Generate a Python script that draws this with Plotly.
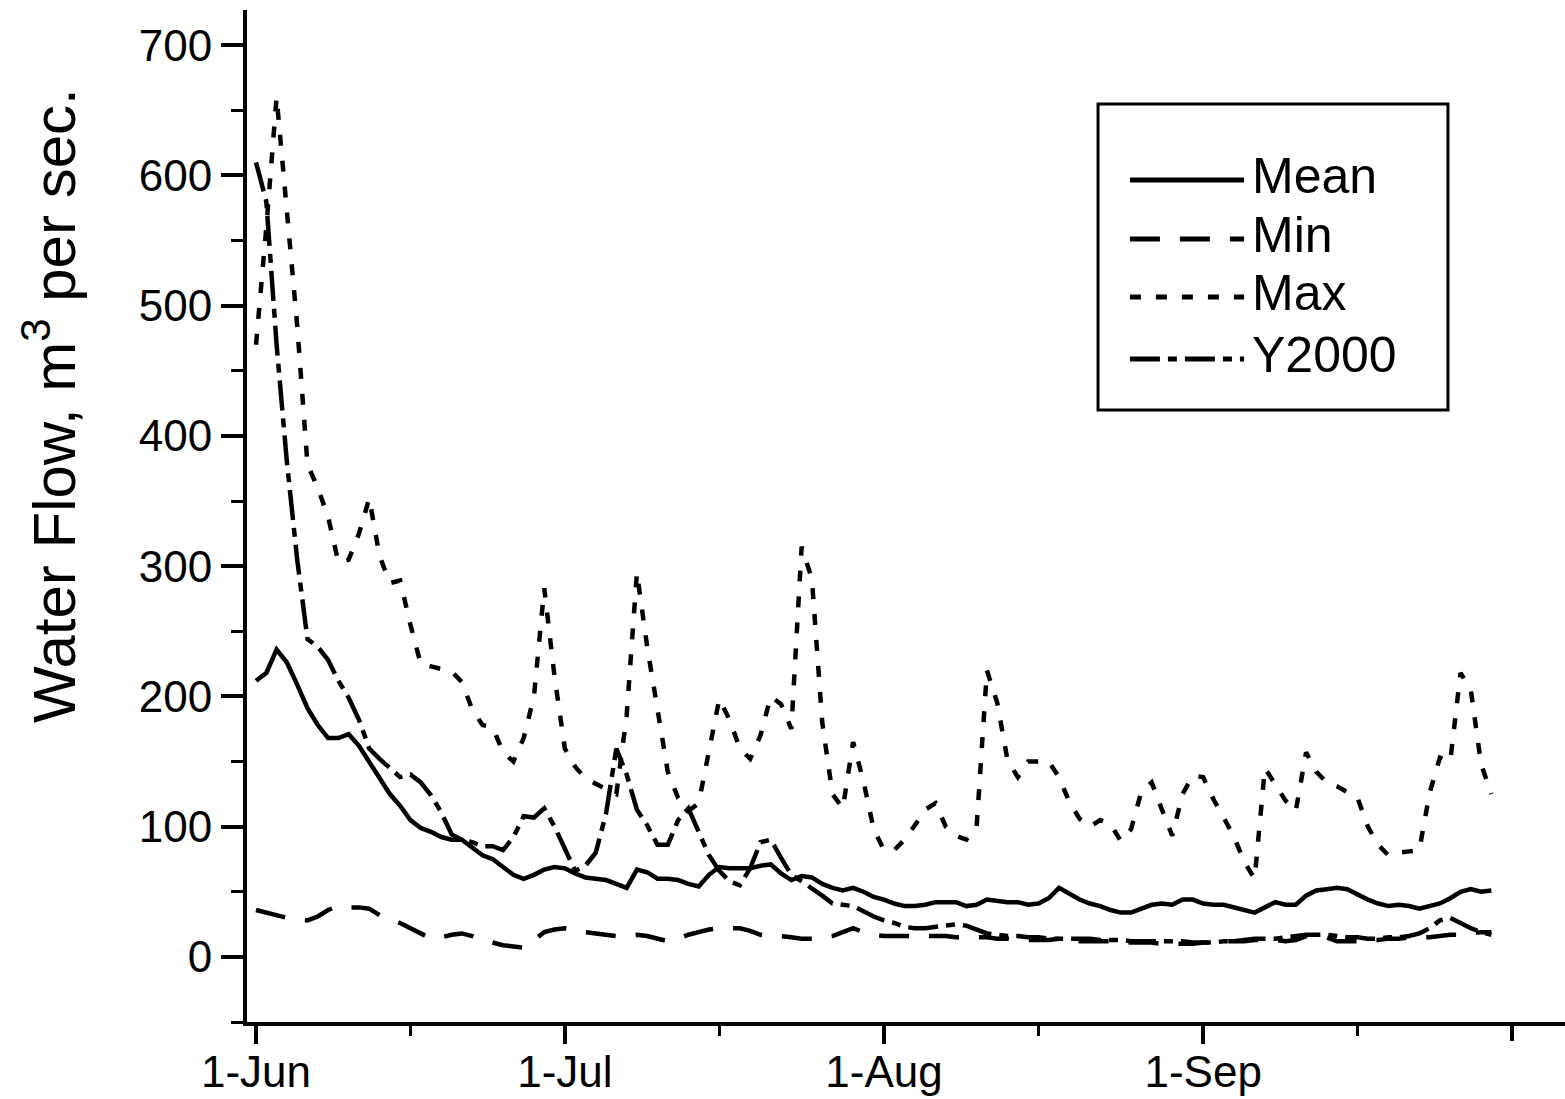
import pandas as pd
import plotly.graph_objects as go

# ---------------- data (daily, 1-Jun .. 29-Sep) ----------------
start_date = "2000-06-01"
n_days = 121

mean_flow = [
    212, 218, 236, 226, 209, 191, 178, 168, 168, 171,
    162, 150, 137, 125, 116, 105, 99, 96, 92, 90,
    90, 84, 78, 75, 69, 63, 60, 63, 67, 69,
    68, 64, 61, 60, 59, 56, 53, 67, 65, 60,
    60, 59, 56, 54, 63, 69, 68, 68, 68, 70,
    71, 64, 59, 62, 61, 56, 53, 51, 53, 50,
    46, 44, 41, 39, 39, 40, 42, 42, 42, 39,
    40, 44, 43, 42, 42, 40, 41, 45, 53, 48,
    44, 41, 39, 36, 34, 34, 37, 40, 41, 40,
    44, 44, 41, 40, 40, 38, 36, 34, 38, 42,
    40, 40, 47, 51, 52, 53, 52, 48, 44, 41,
    39, 40, 39, 37, 39, 41, 45, 50, 52, 50,
    51,
]

min_flow = [
    36, 34, 32, 30, 29, 28, 31, 36, 39, 38,
    38, 37, 32, 29, 26, 22, 18, 14, 15, 17,
    18, 16, 13, 11, 9, 8, 7, 13, 19, 21,
    22, 21, 19, 18, 17, 16, 16, 17, 16, 14,
    12, 14, 17, 19, 21, 22, 22, 22, 20, 17,
    16, 16, 15, 14, 14, 15, 16, 19, 22, 19,
    17, 16, 16, 16, 16, 16, 16, 16, 15, 15,
    15, 15, 14, 14, 13, 13, 13, 13, 14, 13,
    12, 12, 12, 12, 11, 11, 11, 11, 10, 10,
    10, 10, 11, 11, 12, 12, 12, 13, 13, 13,
    12, 13, 16, 16, 15, 12, 12, 12, 13, 13,
    14, 14, 15, 15, 15, 16, 17, 17, 18, 19,
    19,
]

max_flow = [
    470, 560, 660, 572, 485, 378, 360, 338, 303, 305,
    325, 352, 308, 287, 289, 255, 225, 223, 221, 219,
    211, 190, 178, 176, 157, 150, 168, 200, 283, 215,
    160, 146, 137, 133, 129, 125, 185, 295, 238, 188,
    142, 122, 112, 118, 160, 198, 182, 160, 152, 170,
    200, 194, 175, 315, 290, 180, 125, 114, 165, 135,
    98, 82, 82, 90, 101, 113, 118, 100, 93, 90,
    100, 220, 195, 151, 138, 150, 150, 150, 138, 119,
    106, 100, 105, 102, 89, 98, 127, 134, 113, 93,
    125, 139, 138, 121, 107, 92, 73, 60, 145, 133,
    120, 112, 157, 142, 134, 131, 126, 122, 100, 86,
    78, 80, 81, 82, 126, 153, 150, 218, 205, 148,
    125,
]

y2000_flow = [
    610, 580, 470, 380, 305, 244, 238, 228, 212, 199,
    182, 160, 152, 145, 138, 140, 134, 124, 111, 94,
    90, 88, 85, 85, 82, 92, 108, 107, 114, 100,
    82, 66, 70, 80, 110, 160, 140, 113, 101, 86,
    86, 105, 114, 97, 78, 66, 58, 55, 68, 88,
    90, 76, 63, 58, 53, 47, 41, 40, 39, 35,
    31, 28, 26, 23, 22, 22, 23, 24, 25, 24,
    21, 18, 17, 16, 16, 15, 15, 14, 14, 14,
    14, 14, 13, 13, 13, 12, 12, 12, 12, 12,
    12, 11, 11, 11, 12, 12, 13, 14, 14, 14,
    15, 16, 17, 17, 17, 16, 15, 15, 14, 14,
    15, 15, 16, 18, 22, 28, 30, 26, 22, 19,
    17,
]

series_names = ["Mean", "Min", "Max", "Y2000"]
x_tick_dates = ["2000-06-01", "2000-07-01", "2000-08-01", "2000-09-01"]
x_tick_text = ["1-Jun", "1-Jul", "1-Aug", "1-Sep"]
x_unlabelled_tick = ["2000-10-01"]
x_minor_dates = ["2000-06-16", "2000-07-16", "2000-08-16", "2000-09-16"]
y_tick_vals = [0, 100, 200, 300, 400, 500, 600, 700]

# ---------------- styles ----------------
dates = pd.date_range(start_date, periods=n_days, freq="D")
styles = {
    "Mean": dict(dash="solid"),
    "Min": dict(dash="30px,20px"),
    "Max": dict(dash="11px,15px"),
    "Y2000": dict(dash="30px,8px,9px,8px"),
}
values = {"Mean": mean_flow, "Min": min_flow, "Max": max_flow, "Y2000": y2000_flow}
FONT = "Liberation Sans, Arial, sans-serif"
X_RANGE = ["2000-05-31 03:00", "2000-10-06 03:36"]

fig = go.Figure()
for name in series_names:
    fig.add_trace(go.Scatter(
        x=dates, y=values[name], mode="lines", name=name,
        line=dict(color="black", width=4.5, dash=styles[name]["dash"]),
        showlegend=False,
    ))
# empty helper trace so the overlaying axis (for the unlabelled 1-Oct tick) is drawn
fig.add_trace(go.Scatter(x=[], y=[], xaxis="x2", yaxis="y", showlegend=False,
                         hoverinfo="skip"))

fig.update_layout(
    width=1565, height=1099,
    margin=dict(l=247, r=0, t=10, b=77, autoexpand=False),
    paper_bgcolor="white", plot_bgcolor="white",
    font=dict(family=FONT, color="black", size=44),
    xaxis2=dict(
        type="date", overlaying="x", anchor="y", side="bottom",
        range=X_RANGE, tickmode="array", tickvals=x_unlabelled_tick,
        showticklabels=False, ticks="outside", ticklen=18, tickwidth=3.5,
        tickcolor="black", showline=False, showgrid=False, zeroline=False,
        automargin=False,
    ),
)

fig.layout.xaxis.update(
    type="date",
    range=X_RANGE,
    tickmode="array", tickvals=x_tick_dates, ticktext=x_tick_text,
    ticks="outside", ticklen=18, tickwidth=3.5, tickcolor="black",
    showline=True, linewidth=4, linecolor="black",
    showgrid=False, zeroline=False, automargin=False,
    ticklabelstandoff=-10,
    tickfont=dict(size=44, family=FONT),
    minor=dict(tickmode="array", tickvals=x_minor_dates, ticks="outside",
               ticklen=10, tickwidth=3, tickcolor="black", showgrid=False),
)
fig.layout.yaxis.update(
    range=[-50, 727],
    tickmode="array", tickvals=y_tick_vals,
    ticks="outside", ticklen=22, tickwidth=3.5, tickcolor="black",
    showline=True, linewidth=4, linecolor="black",
    showgrid=False, zeroline=False, automargin=False,
    tickfont=dict(size=44, family=FONT),
    minor=dict(dtick=50, tick0=0, ticks="outside", ticklen=12, tickwidth=3,
               tickcolor="black", showgrid=False),
)

# y-axis title
fig.add_annotation(
    text="Water Flow, m<sup>3</sup> per sec.",
    xref="paper", yref="paper", x=-0.1495, y=0.6097,
    xanchor="center", yanchor="middle", textangle=-90, showarrow=False,
    font=dict(size=60, family=FONT, color="black"),
)

# legend box
fig.add_shape(type="rect", xref="paper", yref="paper",
              x0=0.6457, y0=0.6047, x1=0.9112, y1=0.9071,
              line=dict(color="black", width=3), fillcolor="white", layer="above")
row_y = [0.8320, 0.7737, 0.7164, 0.6551]
for name, ry in zip(series_names, row_y):
    fig.add_shape(type="line", xref="paper", yref="paper",
                  x0=0.6699, x1=0.7565, y0=ry, y1=ry, layer="above",
                  line=dict(color="black", width=5, dash=styles[name]["dash"]))
    fig.add_annotation(text=name, xref="paper", yref="paper",
                       x=0.7610, y=ry + 0.004, xanchor="left", yanchor="middle",
                       showarrow=False,
                       font=dict(size=50, family=FONT, color="black"))

fig.write_html(
    "out.html",
    config={"displayModeBar": False},
    post_script="document.body.style.margin='0';document.body.style.overflow='hidden';",
)
